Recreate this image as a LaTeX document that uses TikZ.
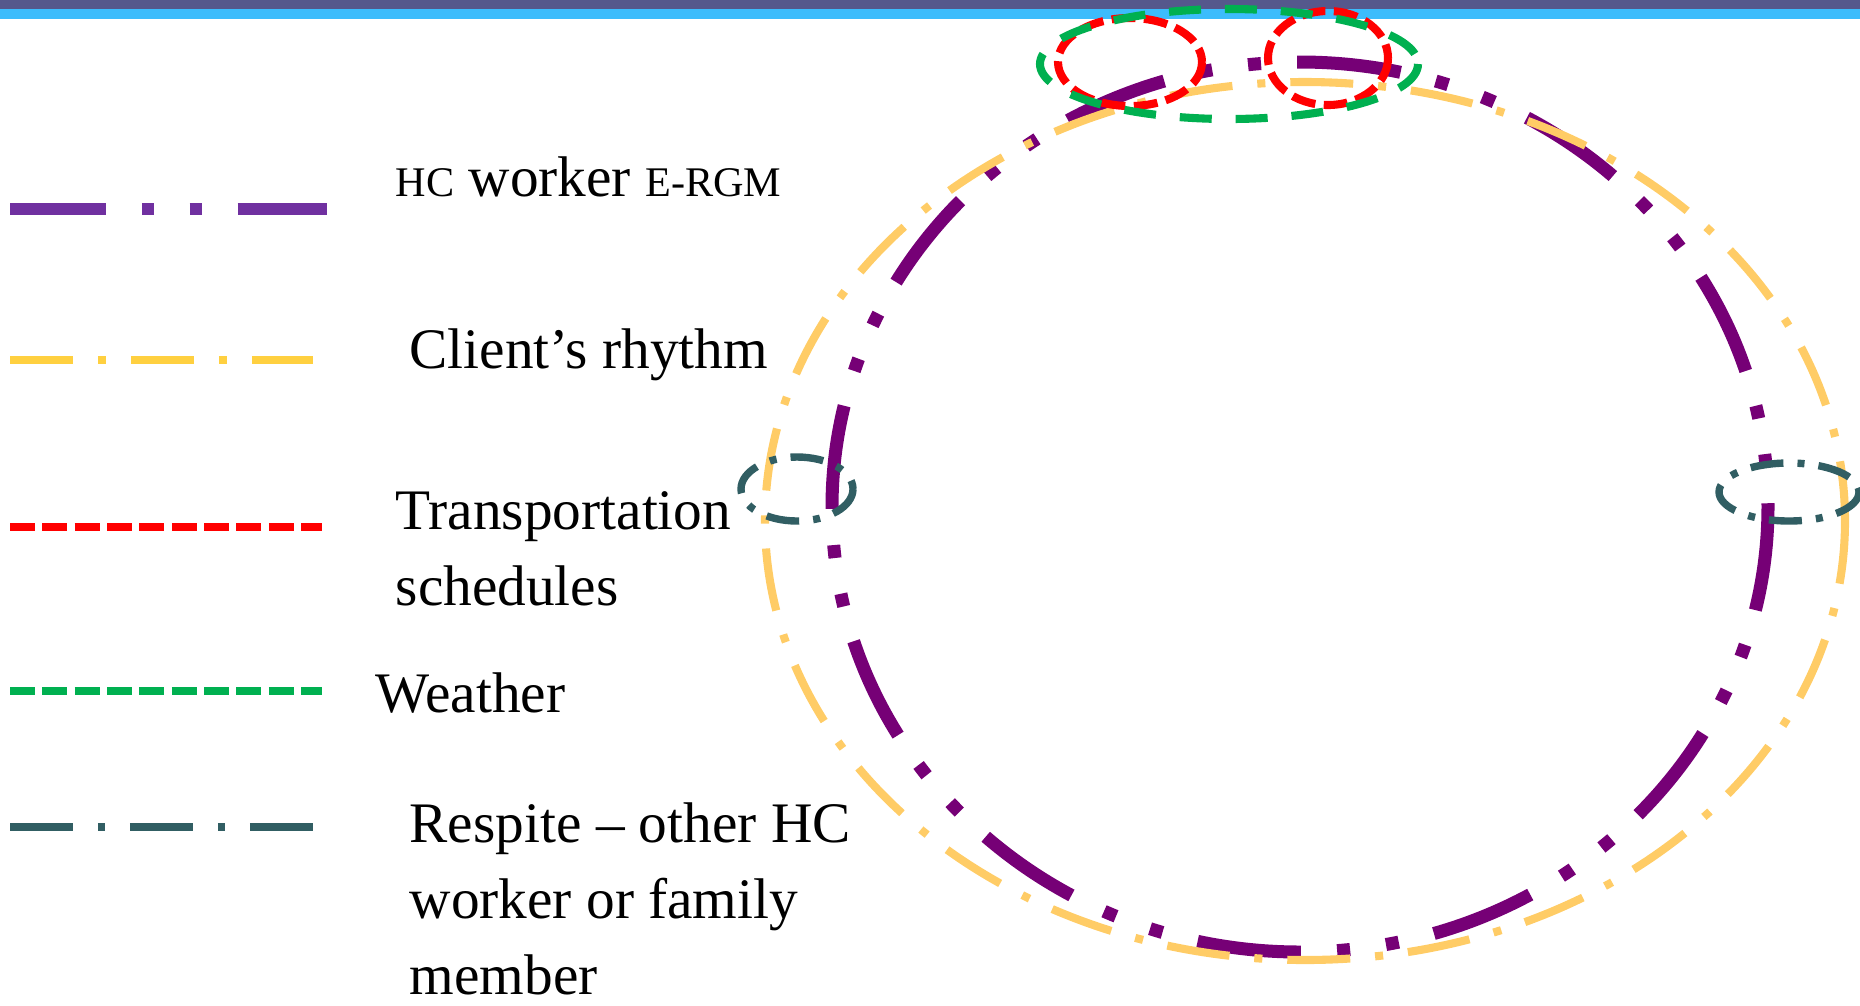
\documentclass[tikz,border=0pt]{standalone}
\usepackage{fontspec}
\setmainfont{Liberation Serif}
\usepackage{xcolor}
\usepackage{tikz}
\definecolor{barnavy}{RGB}{85,88,140}
\definecolor{barsky}{RGB}{60,188,252}
\definecolor{ergmkey}{RGB}{112,48,160}
\definecolor{ergm}{RGB}{118,0,118}
\definecolor{rhythmkey}{RGB}{255,208,64}
\definecolor{rhythm}{RGB}{255,204,102}
\definecolor{transport}{RGB}{255,0,0}
\definecolor{weather}{RGB}{0,176,80}
\definecolor{respite}{RGB}{49,94,99}
\begin{document}
\begin{tikzpicture}[x=.01cm,y=-.01cm,
  keytext/.style={anchor=base west,inner sep=0pt,align=left,font=\fontsize{16.3}{21.5}\selectfont},
  ergmline/.style={ergm,line width=3.7pt,dash pattern=on 29.6pt off 10.3pt on 3.7pt off 10.3pt on 3.7pt off 10.3pt},
  rhythmline/.style={rhythm,line width=2.3pt,dash pattern=on 17.9pt off 7.1pt on 2.3pt off 7.1pt},
  transportline/.style={transport,line width=2.3pt,dash pattern=on 6.8pt off 2.4pt},
  weatherline/.style={weather,line width=2.3pt,dash pattern=on 9.1pt off 6.8pt},
  respiteline/.style={respite,line width=2.1pt,dash pattern=on 9.4pt off 4pt on 2pt off 4pt}]
\useasboundingbox (0,0) rectangle (1860,1005);
\fill[barnavy] (0,0) rectangle (1860,9);
\fill[barsky] (0,9) rectangle (1860,19);
\draw[ergmkey,line width=3.4pt,dash pattern=on 27.3pt off 10.2pt on 3.4pt off 10.2pt on 3.4pt off 10.2pt] (10,209) -- (327,209);
\draw[rhythmkey,line width=2.3pt,dash pattern=on 17.9pt off 7.1pt on 2.3pt off 7.1pt] (10,360) -- (313,360);
\draw[transport,line width=2.3pt,dash pattern=on 7.1pt off 2.1pt] (10,527) -- (322,527);
\draw[weather,line width=2.3pt,dash pattern=on 7.1pt off 2.1pt] (10,691) -- (322,691);
\draw[respite,line width=2.3pt,dash pattern=on 17.9pt off 7.1pt on 2pt off 7.1pt] (10,827) -- (313,827);
\node[keytext] (ergmtxt) at (395,196) {{\fontsize{12}{14}\selectfont HC} worker {\fontsize{12}{14}\selectfont E-RGM}};
\node[keytext] (rhythmtxt) at (409,368) {Client’s rhythm};
\node[keytext] (transporttxt) at (395,605) {Transportation\\schedules};
\node[keytext] (weathertxt) at (375,712) {Weather};
\node[keytext] (respitetxt) at (409,994) {Respite – other HC\\worker or family\\member};
\draw[ergmline] (1300,507) ellipse [x radius=468,y radius=445];
\draw[rhythmline] (1305,521) ellipse [x radius=540,y radius=439];
\draw[respiteline] (797,489) ellipse [x radius=56,y radius=32];
\draw[respiteline] (1789,492) ellipse [x radius=70,y radius=29];
\draw[transportline] (1130,62) ellipse [x radius=72,y radius=44];
\draw[transportline] (1328,58) ellipse [x radius=60,y radius=47];
\draw[weatherline] (1229,64) ellipse [x radius=189,y radius=55];
\end{tikzpicture}
\end{document}
